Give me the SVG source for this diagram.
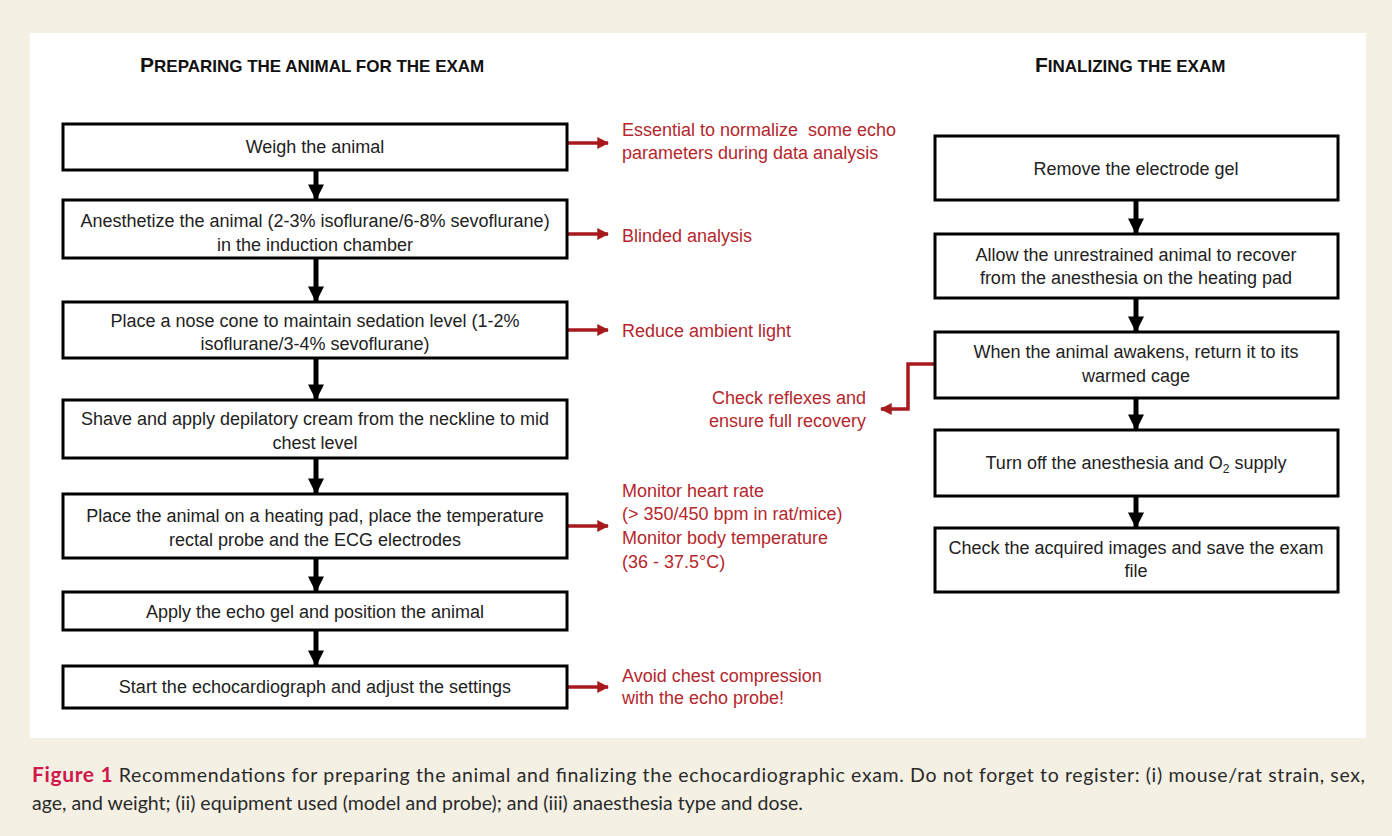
<svg xmlns="http://www.w3.org/2000/svg" width="1392" height="836" viewBox="0 0 1392 836">
<style>
.box{fill:#fff;stroke:#000;stroke-width:3}
.t{font-family:"Liberation Sans",Arial,sans-serif;font-size:18px;fill:#222;text-anchor:middle}
.r{font-family:"Liberation Sans",Arial,sans-serif;font-size:18px;fill:#B5272D}
.h{font-family:"Liberation Sans",Arial,sans-serif;font-weight:bold;fill:#111}
.ba{stroke:#000;stroke-width:5;fill:none}
.ra{stroke:#A8191E;stroke-width:3.5;fill:none}
.cap{font-family:Lato,"Liberation Sans",sans-serif;font-size:19.5px;fill:#2a2a2a}
</style>
<defs>
<marker id="bh" viewBox="0 0 10 10" refX="9" refY="5" markerWidth="3.6" markerHeight="3.2" orient="auto" markerUnits="strokeWidth"><path d="M0,0 L10,5 L0,10 z" fill="#000"/></marker>
<marker id="rh" viewBox="0 0 10 10" refX="9" refY="5" markerWidth="3.4" markerHeight="3.4" orient="auto" markerUnits="strokeWidth"><path d="M0,0 L10,5 L0,10 z" fill="#A8191E"/></marker>
</defs>
<rect x="0" y="0" width="1392" height="836" fill="#F4F0E3"/>
<rect x="30" y="33" width="1336" height="705" fill="#fff"/>

<text class="h" x="140" y="72"><tspan font-size="21">P</tspan><tspan font-size="17">REPARING THE ANIMAL FOR THE EXAM</tspan></text>
<text class="h" x="1035" y="72"><tspan font-size="21">F</tspan><tspan font-size="17">INALIZING THE EXAM</tspan></text>

<g id="connectors">
<line class="ba" x1="316" y1="170" x2="316" y2="199" marker-end="url(#bh)"/>
<line class="ba" x1="316" y1="258" x2="316" y2="301" marker-end="url(#bh)"/>
<line class="ba" x1="316" y1="358" x2="316" y2="399" marker-end="url(#bh)"/>
<line class="ba" x1="316" y1="458" x2="316" y2="493" marker-end="url(#bh)"/>
<line class="ba" x1="316" y1="558" x2="316" y2="591" marker-end="url(#bh)"/>
<line class="ba" x1="316" y1="630" x2="316" y2="665" marker-end="url(#bh)"/>
<line class="ba" x1="1136" y1="200" x2="1136" y2="233" marker-end="url(#bh)"/>
<line class="ba" x1="1136" y1="298" x2="1136" y2="331" marker-end="url(#bh)"/>
<line class="ba" x1="1136" y1="398" x2="1136" y2="429" marker-end="url(#bh)"/>
<line class="ba" x1="1136" y1="496" x2="1136" y2="527" marker-end="url(#bh)"/>
<line class="ra" x1="568" y1="143" x2="608" y2="143" marker-end="url(#rh)"/>
<line class="ra" x1="568" y1="234" x2="608" y2="234" marker-end="url(#rh)"/>
<line class="ra" x1="568" y1="330" x2="608" y2="330" marker-end="url(#rh)"/>
<line class="ra" x1="568" y1="526" x2="608" y2="526" marker-end="url(#rh)"/>
<line class="ra" x1="568" y1="687" x2="608" y2="687" marker-end="url(#rh)"/>
<polyline class="ra" points="935,364 908,364 908,409 881,409" marker-end="url(#rh)"/>
</g>

<g id="n1"><rect class="box" x="63" y="124" width="504" height="46"/><text class="t" x="315" y="153">Weigh the animal</text></g>
<g id="n2"><rect class="box" x="63" y="200" width="504" height="58"/><text class="t" x="315" y="227">Anesthetize the animal (2-3% isoflurane/6-8% sevoflurane)</text><text class="t" x="315" y="251">in the induction chamber</text></g>
<g id="n3"><rect class="box" x="63" y="302" width="504" height="56"/><text class="t" x="315" y="327">Place a nose cone to maintain sedation level (1-2%</text><text class="t" x="315" y="350">isoflurane/3-4% sevoflurane)</text></g>
<g id="n4"><rect class="box" x="63" y="400" width="504" height="58"/><text class="t" x="315" y="425">Shave and apply depilatory cream from the neckline to mid</text><text class="t" x="315" y="449">chest level</text></g>
<g id="n5"><rect class="box" x="63" y="494" width="504" height="64"/><text class="t" x="315" y="522">Place the animal on a heating pad, place the temperature</text><text class="t" x="315" y="546">rectal probe and the ECG electrodes</text></g>
<g id="n6"><rect class="box" x="63" y="592" width="504" height="38"/><text class="t" x="315" y="618">Apply the echo gel and position the animal</text></g>
<g id="n7"><rect class="box" x="63" y="666" width="504" height="42"/><text class="t" x="315" y="693">Start the echocardiograph and adjust the settings</text></g>

<g id="r1"><text class="r" x="622" y="136" xml:space="preserve">Essential to normalize  some echo</text><text class="r" x="622" y="159">parameters during data analysis</text></g>
<g id="r2"><text class="r" x="622" y="242">Blinded analysis</text></g>
<g id="r3"><text class="r" x="622" y="337">Reduce ambient light</text></g>
<g id="r4"><text class="r" x="622" y="497">Monitor heart rate</text><text class="r" x="622" y="520">(&gt; 350/450 bpm in rat/mice)</text><text class="r" x="622" y="544">Monitor body temperature</text><text class="r" x="622" y="568">(36 - 37.5°C)</text></g>
<g id="r5"><text class="r" x="622" y="682">Avoid chest compression</text><text class="r" x="622" y="704">with the echo probe!</text></g>
<g id="r6"><text class="r" x="866" y="404" text-anchor="end">Check reflexes and</text><text class="r" x="866" y="427" text-anchor="end">ensure full recovery</text></g>

<g id="m1"><rect class="box" x="935" y="136" width="403" height="64"/><text class="t" x="1136" y="175">Remove the electrode gel</text></g>
<g id="m2"><rect class="box" x="935" y="234" width="403" height="64"/><text class="t" x="1136" y="261">Allow the unrestrained animal to recover</text><text class="t" x="1136" y="284">from the anesthesia on the heating pad</text></g>
<g id="m3"><rect class="box" x="935" y="332" width="403" height="66"/><text class="t" x="1136" y="358">When the animal awakens, return it to its</text><text class="t" x="1136" y="382">warmed cage</text></g>
<g id="m4"><rect class="box" x="935" y="430" width="403" height="66"/><text class="t" x="1136" y="469">Turn off the anesthesia and O<tspan font-size="12" dy="4">2</tspan><tspan dy="-4"> supply</tspan></text></g>
<g id="m5"><rect class="box" x="935" y="528" width="403" height="64"/><text class="t" x="1136" y="554">Check the acquired images and save the exam</text><text class="t" x="1136" y="577">file</text></g>

<text class="cap" x="32" y="782" textLength="1333" lengthAdjust="spacing"><tspan font-weight="bold" fill="#D0184B" font-size="21">Figure 1</tspan>  Recommendations for preparing the animal and finalizing the echocardiographic exam. Do not forget to register: (i) mouse/rat strain, sex,</text>
<text class="cap" x="32" y="810">age, and weight; (ii) equipment used (model and probe); and (iii) anaesthesia type and dose.</text>
</svg>
